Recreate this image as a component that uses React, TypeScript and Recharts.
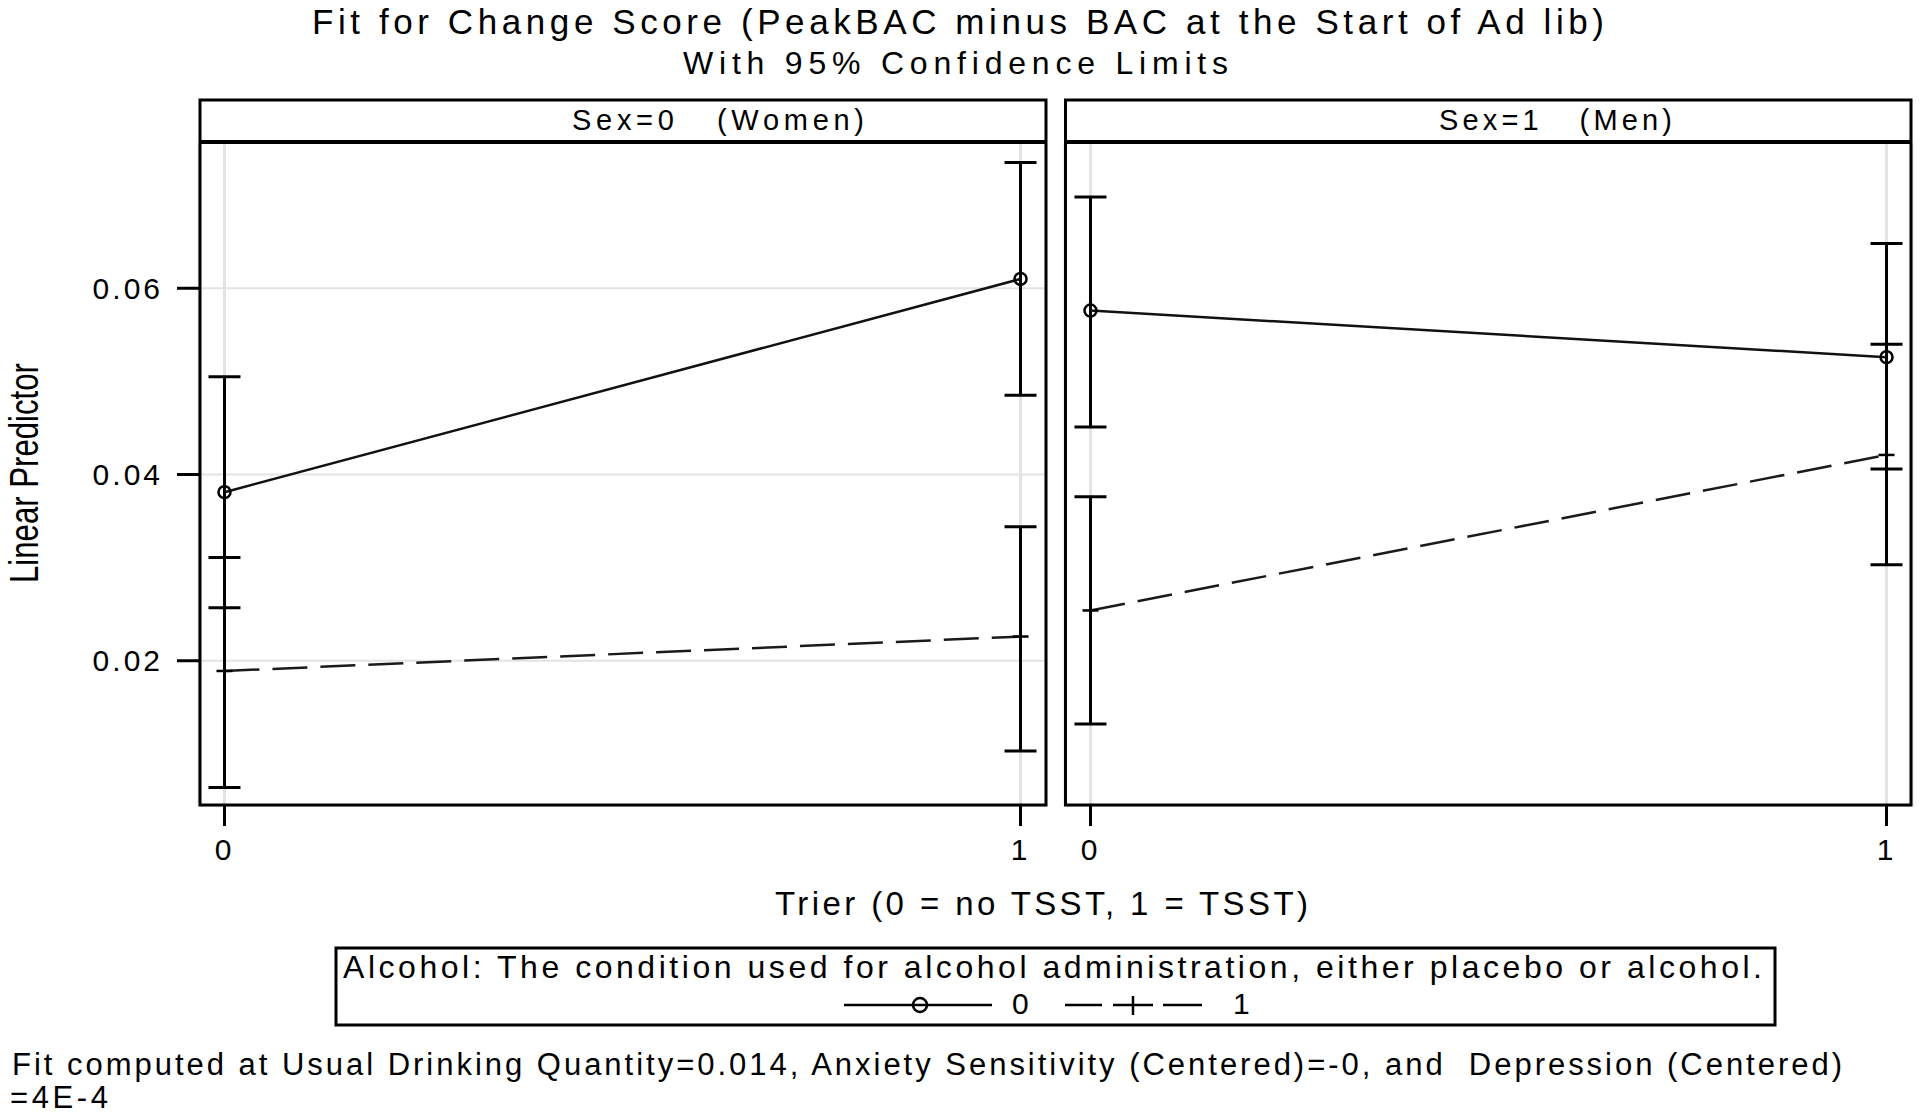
import React from 'react';
import { LineChart, Line, XAxis, YAxis, CartesianGrid, ErrorBar } from 'recharts';

// x categories (Trier: 0 = no TSST, 1 = TSST)
const trier = [0, 1];
const yTicks = [0.02, 0.04, 0.06];

// Sex=0 (Women)
const womenAlc0 = [0.0381, 0.061];
const womenAlc0Lo = [0.0257, 0.0485];
const womenAlc0Hi = [0.0505, 0.0735];
const womenAlc1 = [0.0189, 0.0226];
const womenAlc1Lo = [0.0064, 0.0103];
const womenAlc1Hi = [0.0311, 0.0344];

// Sex=1 (Men)
const menAlc0 = [0.0576, 0.0526];
const menAlc0Lo = [0.0451, 0.0406];
const menAlc0Hi = [0.0698, 0.0648];
const menAlc1 = [0.0254, 0.0421];
const menAlc1Lo = [0.0132, 0.0303];
const menAlc1Hi = [0.0376, 0.054];

const FONT = '"Liberation Sans", Arial, Helvetica, sans-serif';

const buildRows = (
  m0: number[], lo0: number[], hi0: number[],
  m1: number[], lo1: number[], hi1: number[]
) =>
  trier.map((x, i) => ({
    x,
    a0: m0[i],
    a0Err: [m0[i] - lo0[i], hi0[i] - m0[i]],
    a1: m1[i],
    a1Err: [m1[i] - lo1[i], hi1[i] - m1[i]],
  }));

const womenRows = buildRows(womenAlc0, womenAlc0Lo, womenAlc0Hi, womenAlc1, womenAlc1Lo, womenAlc1Hi);
const menRows = buildRows(menAlc0, menAlc0Lo, menAlc0Hi, menAlc1, menAlc1Lo, menAlc1Hi);

const renderCircle = (p: any) => (
  <circle key={`c-${p.index}`} cx={p.cx} cy={p.cy} r={6} fill="none" stroke="#000" strokeWidth={2.5} />
);

const renderPlus = (p: any) => (
  <line key={`p-${p.index}`} x1={p.cx - 8} x2={p.cx + 8} y1={p.cy} y2={p.cy} stroke="#000" strokeWidth={2.5} />
);

const YLabel = () => (
  <text
    transform="translate(38, 473) rotate(-90)"
    textAnchor="middle"
    fontFamily={FONT}
    fontSize={41}
    fill="#000"
    textLength={220}
    lengthAdjust="spacingAndGlyphs"
  >
    Linear Predictor
  </text>
);

const tickStyle = { fill: '#000', fontSize: 30, fontFamily: FONT, letterSpacing: 3 };

interface PanelProps {
  rows: any[];
  left: number;
  width: number;
  showY: boolean;
}

const Panel: React.FC<PanelProps> = ({ rows, left, width, showY }) => (
  <div style={{ position: 'absolute', left, top: 0 }}>
    <LineChart
      width={width}
      height={900}
      data={rows}
      margin={{ top: 143, right: showY ? 14 : 8, bottom: 34, left: showY ? 0 : 15 }}
    >
      <CartesianGrid horizontal={false} stroke="#e3e3e3" strokeWidth={3} />
      <CartesianGrid vertical={false} stroke="#e3e3e3" strokeWidth={2} />
      <XAxis
        type="number"
        dataKey="x"
        domain={[-0.032, 1.032]}
        allowDataOverflow
        ticks={trier}
        axisLine={false}
        tickSize={20}
        tickMargin={13}
        tickLine={{ stroke: '#000', strokeWidth: 3 }}
        tick={tickStyle}
        height={60}
      />
      {showY ? (
        <YAxis
          type="number"
          domain={[0.0044, 0.0756]}
          allowDataOverflow
          ticks={yTicks}
          tickFormatter={(v: number) => v.toFixed(2)}
          width={199}
          axisLine={false}
          tickSize={22}
          tickMargin={14}
          tickLine={{ stroke: '#000', strokeWidth: 3 }}
          tick={tickStyle}
          label={<YLabel />}
        />
      ) : (
        <YAxis
          type="number"
          domain={[0.0044, 0.0756]}
          allowDataOverflow
          ticks={yTicks}
          width={0}
          axisLine={false}
          tickLine={false}
          tick={false}
        />
      )}
      <Line
        type="linear"
        dataKey="a0"
        stroke="#111"
        strokeWidth={2.5}
        dot={renderCircle}
        activeDot={false}
        isAnimationActive={false}
      >
        <ErrorBar dataKey="a0Err" direction="y" width={16} stroke="#000" strokeWidth={3} isAnimationActive={false} />
      </Line>
      <Line
        type="linear"
        dataKey="a1"
        stroke="#1a1a1a"
        strokeWidth={2.5}
        strokeDasharray="35 13"
        dot={renderPlus}
        activeDot={false}
        isAnimationActive={false}
      >
        <ErrorBar dataKey="a1Err" direction="y" width={16} stroke="#000" strokeWidth={3} isAnimationActive={false} />
      </Line>
    </LineChart>
  </div>
);

const txt = { fill: '#000', fontFamily: FONT, whiteSpace: 'pre' as const };

const App: React.FC = () => (
  <div style={{ position: 'absolute', left: 0, top: 0, width: 1920, height: 1116, background: '#fff' }}>
    <Panel rows={womenRows} left={0} width={1060} showY />
    <Panel rows={menRows} left={1050} width={870} showY={false} />

    <svg width={1920} height={1116} style={{ position: 'absolute', left: 0, top: 0, pointerEvents: 'none' }}>
      {/* titles */}
      <text x={312} y={34} fontSize={35} textLength={1292} style={txt}>
        Fit for Change Score (PeakBAC minus BAC at the Start of Ad lib)
      </text>
      <text x={683} y={74} fontSize={32} textLength={545} style={txt}>
        With 95% Confidence Limits
      </text>

      {/* panel frames + headers */}
      <rect x={200} y={100} width={846} height={705} fill="none" stroke="#000" strokeWidth={3} />
      <line x1={200} x2={1046} y1={142} y2={142} stroke="#000" strokeWidth={4} />
      <text x={572} y={130} fontSize={29} textLength={292} style={txt}>
        {'Sex=0   (Women)'}
      </text>
      <rect x={1065.5} y={100} width={845.5} height={705} fill="none" stroke="#000" strokeWidth={3} />
      <line x1={1065.5} x2={1911} y1={142} y2={142} stroke="#000" strokeWidth={4} />
      <text x={1439} y={130} fontSize={29} textLength={233} style={txt}>
        {'Sex=1   (Men)'}
      </text>

      {/* x axis label */}
      <text x={775} y={915} fontSize={33} textLength={533} style={txt}>
        Trier (0 = no TSST, 1 = TSST)
      </text>

      {/* legend */}
      <rect x={336} y={948} width={1439} height={77} fill="none" stroke="#000" strokeWidth={3} />
      <text x={343} y={978} fontSize={32} textLength={1419} style={txt}>
        Alcohol: The condition used for alcohol administration, either placebo or alcohol.
      </text>
      <line x1={844} x2={992} y1={1005} y2={1005} stroke="#000" strokeWidth={2.5} />
      <circle cx={920} cy={1005} r={7} fill="none" stroke="#000" strokeWidth={2.5} />
      <text x={1012} y={1014} fontSize={30} style={txt}>0</text>
      <line x1={1065} x2={1102} y1={1005} y2={1005} stroke="#000" strokeWidth={2.5} />
      <line x1={1113} x2={1153} y1={1005} y2={1005} stroke="#000" strokeWidth={2.5} />
      <line x1={1133} x2={1133} y1={996} y2={1015} stroke="#000" strokeWidth={2.5} />
      <line x1={1163} x2={1202} y1={1005} y2={1005} stroke="#000" strokeWidth={2.5} />
      <text x={1233} y={1014} fontSize={30} style={txt}>1</text>

      {/* footnote */}
      <text x={12} y={1075} fontSize={31} textLength={1830} style={txt}>
        {'Fit computed at Usual Drinking Quantity=0.014, Anxiety Sensitivity (Centered)=-0, and  Depression (Centered)'}
      </text>
      <text x={10} y={1108} fontSize={31} textLength={98} style={txt}>
        =4E-4
      </text>
    </svg>
  </div>
);

export default App;
